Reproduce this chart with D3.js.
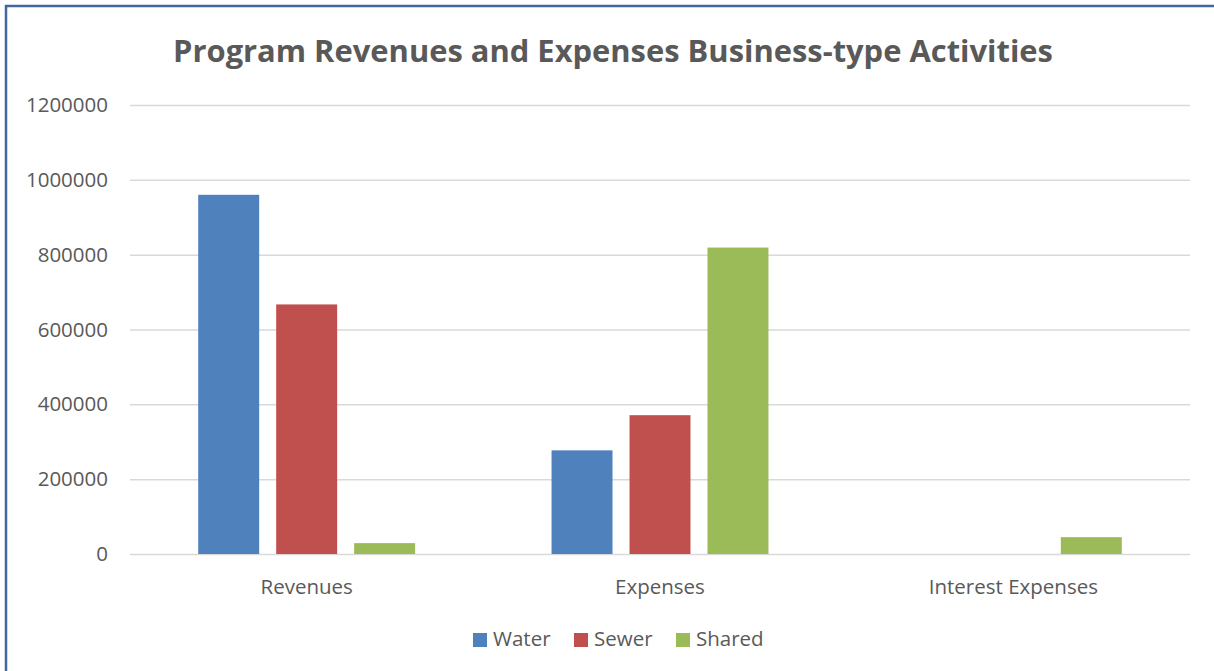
<!DOCTYPE html>
<html>
<head>
  <meta charset="utf-8">
  <title>Program Revenues and Expenses Business-type Activities</title>
  <script src="https://d3js.org/d3.v7.min.js"></script>
  <style>
    body { margin: 0; background: #fff; }
    svg text { font-family: "Open Sans", "Liberation Sans", sans-serif; fill: #595959; }
  </style>
</head>
<body>
  <svg id="chart" width="1214" height="671"></svg>
  <script>
    // chart data
    var categories = ['Revenues', 'Expenses', 'Interest Expenses'],
        seriesNames = ['Water', 'Sewer', 'Shared'],
        water = [960000, 277000, 0],
        sewer = [667000, 371000, 0],
        shared = [29000, 819000, 45000],
        yTicks = [0, 200000, 400000, 600000, 800000, 1000000, 1200000],
        colors = ['#4F81BD', '#C0504D', '#9BBB59'];

    var values = [water, sewer, shared];

    var svg = d3.select('#chart');

    // frame (only left and top edges show)
    svg.append('path')
        .attr('d', 'M6,671 L6,6 L1214,6')
        .attr('fill', 'none')
        .attr('stroke', '#41689C')
        .attr('stroke-width', 2.5);

    var plotLeft = 130, plotRight = 1190, plotTop = 105, plotBottom = 554;

    var y = d3.scaleLinear().domain([0, 1200000]).range([plotBottom, plotTop]);

    var x0 = d3.scaleBand().domain(categories)
        .range([plotLeft, plotRight])
        .paddingInner(0.338).paddingOuter(0.169);

    var x1 = d3.scaleBand().domain(seriesNames)
        .range([0, x0.bandwidth()])
        .paddingInner(0.218).paddingOuter(0.109);

    // gridlines + y labels
    var yAxis = d3.axisLeft(y).tickValues(yTicks)
        .tickSize(-(plotRight - plotLeft)).tickPadding(22)
        .tickFormat(d3.format('d'));

    var gy = svg.append('g')
        .attr('transform', 'translate(' + plotLeft + ',0)')
        .call(yAxis);
    gy.select('.domain').remove();
    gy.selectAll('.tick line').attr('stroke', '#D9D9D9').attr('stroke-width', 1.5);
    gy.selectAll('.tick text').attr('font-size', 20.5).style('fill', '#595959');

    // bars
    var rows = categories.map(function(c, i) {
      return { cat: c, vals: seriesNames.map(function(s, j) { return { s: s, v: values[j][i], c: colors[j] }; }) };
    });

    svg.append('g').selectAll('g')
      .data(rows)
      .enter().append('g')
        .attr('transform', function(d) { return 'translate(' + x0(d.cat) + ',0)'; })
      .selectAll('rect')
      .data(function(d) { return d.vals.filter(function(e) { return e.v > 0; }); })
      .enter().append('rect')
        .attr('x', function(d) { return x1(d.s); })
        .attr('y', function(d) { return y(d.v); })
        .attr('width', x1.bandwidth())
        .attr('height', function(d) { return plotBottom - y(d.v); })
        .attr('fill', function(d) { return d.c; });

    // x labels
    var xAxis = d3.axisBottom(x0).tickSize(0).tickPadding(25);
    var gx = svg.append('g')
        .attr('transform', 'translate(0,' + plotBottom + ')')
        .call(xAxis);
    gx.select('.domain').remove();
    gx.selectAll('.tick text').attr('font-size', 20.5).style('fill', '#595959');

    // title
    svg.append('text')
        .attr('x', 613).attr('y', 62)
        .attr('text-anchor', 'middle')
        .attr('font-size', 30.9)
        .attr('font-weight', 'bold')
        .text('Program Revenues and Expenses Business-type Activities');

    // legend
    var legendX = [473, 574, 676];
    var lg = svg.append('g').selectAll('g')
      .data(seriesNames)
      .enter().append('g')
        .attr('transform', function(d, i) { return 'translate(' + legendX[i] + ',633)'; });
    lg.append('rect')
        .attr('width', 14).attr('height', 14)
        .attr('fill', function(d, i) { return colors[i]; });
    lg.append('text')
        .attr('x', 20).attr('y', 13)
        .attr('font-size', 20.5)
        .text(function(d) { return d; });
  </script>
</body>
</html>
